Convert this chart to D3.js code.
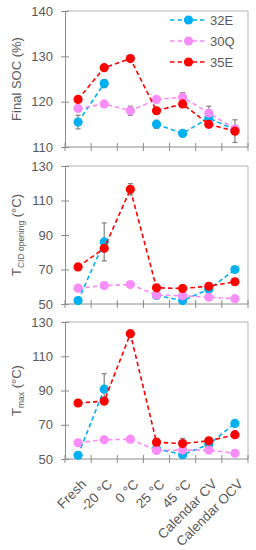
<!DOCTYPE html>
<html>
<head>
<meta charset="utf-8">
<script src="https://cdn.jsdelivr.net/npm/d3@7"></script>
<style>
  body { margin: 0; background: #fff; }
  text { font-family: "Liberation Sans", Arial, sans-serif; fill: #595959; }
</style>
</head>
<body>
<div id="content"></div>
<script>
// ******* DATA *******
const categories = ["Fresh", "-20 °C", "0 °C", "25 °C", "45 °C", "Calendar CV", "Calendar OCV"];
const seriesNames = ["32E", "30Q", "35E"];
const seriesColors = ["#00b0f0", "#f88cf8", "#ff0000"];

// final SOC (%)
const soc32E = [115.5, 124, null, 115, 113, 116.4, 113.8];
const soc30Q = [118.5, 119.5, 118, 120.5, 121, 117.5, 114];
const soc35E = [120.5, 127.5, 129.5, 118, 119.5, 115, 113.5];
const socErr32E = [1.5, 0.9, 0, 0.9, 0, 0, 0];
const socErr30Q = [0, 0, 1, 0, 1, 1.5, 0];
const socErr35E = [0, 0, 0, 0, 0, 0, 2.5];

// T CID opening (°C)
const cid32E = [52, 86, null, 55, 52, 58.5, 70];
const cid30Q = [59.2, 60.7, 61.3, 55.2, 54.8, 53.9, 53.1];
const cid35E = [71.5, 82.3, 116.5, 59.4, 59, 60.3, 62.9];
const cidErr32E = [0, 11, 0, 0, 0, 0, 0];
const cidErr30Q = [0, 0, 0, 0, 0, 0, 0];
const cidErr35E = [0, 0, 3.3, 0, 2, 0, 0];

// T max (°C)
const tmax32E = [52.2, 90.8, null, 56, 52.5, 58.5, 70.8];
const tmax30Q = [59.5, 61.2, 61.6, 55, 55.2, 55.2, 53.3];
const tmax35E = [82.7, 83.8, 123.2, 59.8, 59, 60.6, 64.2];
const tmaxErr32E = [0, 9, 0, 0, 0, 0, 0];
const tmaxErr30Q = [0, 0, 0, 0, 0, 0, 1.5];
const tmaxErr35E = [0, 1.5, 0, 0, 3, 0, 0];

const socTicks = [110, 120, 130, 140];
const tempTicks = [50, 70, 90, 110, 130];

// ******* LAYOUT *******
const W = 256, H = 550;
const left = 65, right = 248;

const svg = d3.select("#content").append("svg")
    .attr("width", W)
    .attr("height", H);

const x = d3.scaleBand().domain(categories).range([left, right]).padding(0);

const panels = [
    { top: 11, bottom: 147, domain: [110, 140], ticks: socTicks,
      values: [soc32E, soc30Q, soc35E], errors: [socErr32E, socErr30Q, socErr35E],
      label: "soc" },
    { top: 166, bottom: 304, domain: [50, 130], ticks: tempTicks,
      values: [cid32E, cid30Q, cid35E], errors: [cidErr32E, cidErr30Q, cidErr35E],
      label: "cid" },
    { top: 322, bottom: 459, domain: [50, 130], ticks: tempTicks,
      values: [tmax32E, tmax30Q, tmax35E], errors: [tmaxErr32E, tmaxErr30Q, tmaxErr35E],
      label: "tmax" }
];

panels.forEach(p => drawPanel(p));
drawLegend();
drawXLabels();

function drawPanel(p) {
    const y = d3.scaleLinear().domain(p.domain).range([p.bottom, p.top]);
    const g = svg.append("g");

    // frame (top and right borders)
    g.append("path")
        .attr("d", `M${left},${p.top}H${right}V${p.bottom}`)
        .attr("fill", "none")
        .attr("stroke", "#b3b3b3")
        .attr("stroke-width", 1);

    // y axis, ticks crossing the line
    const yAxis = g.append("g")
        .attr("transform", `translate(${left},0)`)
        .call(d3.axisLeft(y).tickValues(p.ticks).tickSize(0).tickPadding(12));
    yAxis.select(".domain").attr("stroke", "#8c8c8c");
    yAxis.selectAll(".tick text")
        .style("font-size", "13px")
        .attr("fill", "#595959");
    yAxis.selectAll(".tick").append("line")
        .attr("x1", -4).attr("x2", 4)
        .attr("stroke", "#8c8c8c");

    // x axis with boundary ticks
    g.append("line")
        .attr("x1", left).attr("x2", right)
        .attr("y1", p.bottom).attr("y2", p.bottom)
        .attr("stroke", "#8c8c8c");
    const edges = categories.map(c => x(c)).concat([right]);
    g.selectAll(".xtick").data(edges).join("line")
        .attr("x1", d => d).attr("x2", d => d)
        .attr("y1", p.bottom - 4).attr("y2", p.bottom + 4)
        .attr("stroke", "#8c8c8c");

    const cx = c => x(c) + x.bandwidth() / 2;

    // error bars
    p.values.forEach((vals, si) => {
        vals.forEach((v, i) => {
            const e = p.errors[si][i];
            if (v == null || !e) return;
            const xc = cx(categories[i]);
            const eg = g.append("g").attr("stroke", "#808080").attr("stroke-width", 1.2);
            eg.append("line").attr("x1", xc).attr("x2", xc).attr("y1", y(v - e)).attr("y2", y(v + e));
            eg.append("line").attr("x1", xc - 2.5).attr("x2", xc + 2.5).attr("y1", y(v - e)).attr("y2", y(v - e));
            eg.append("line").attr("x1", xc - 2.5).attr("x2", xc + 2.5).attr("y1", y(v + e)).attr("y2", y(v + e));
        });
    });

    // lines + markers, series in legend order
    p.values.forEach((vals, si) => {
        const pts = vals.map((v, i) => ({ c: categories[i], v }));
        const line = d3.line()
            .defined(d => d.v != null)
            .x(d => cx(d.c))
            .y(d => y(d.v));
        g.append("path")
            .datum(pts)
            .attr("d", line)
            .attr("fill", "none")
            .attr("stroke", seriesColors[si])
            .attr("stroke-width", 1.6)
            .attr("stroke-dasharray", "4.5,3");
        g.selectAll(null).data(pts.filter(d => d.v != null)).join("circle")
            .attr("cx", d => cx(d.c))
            .attr("cy", d => y(d.v))
            .attr("r", 4.6)
            .attr("fill", seriesColors[si]);
    });

    // y title
    const ym = (p.top + p.bottom) / 2;
    const t = svg.append("text")
        .attr("transform", `translate(21,${ym}) rotate(-90)`)
        .attr("text-anchor", "middle")
        .style("font-size", "13px");
    if (p.label === "soc") {
        t.text("Final SOC (%)");
    } else if (p.label === "cid") {
        t.append("tspan").text("T");
        t.append("tspan").attr("dy", 3).style("font-size", "8.5px").text("CID opening");
        t.append("tspan").attr("dy", -3).text(" (°C)");
    } else {
        t.append("tspan").text("T");
        t.append("tspan").attr("dy", 3).style("font-size", "8.5px").text("max");
        t.append("tspan").attr("dy", -3).text(" (°C)");
    }
}

function drawLegend() {
    const lg = svg.append("g");
    seriesNames.forEach((name, i) => {
        const yy = 20 + i * 21;
        lg.append("line")
            .attr("x1", 170).attr("x2", 207)
            .attr("y1", yy).attr("y2", yy)
            .attr("stroke", seriesColors[i])
            .attr("stroke-width", 1.6)
            .attr("stroke-dasharray", "4.5,3");
        lg.append("circle")
            .attr("cx", 188.5).attr("cy", yy).attr("r", 4.6)
            .attr("fill", seriesColors[i]);
        lg.append("text")
            .attr("x", 210).attr("y", yy + 5)
            .style("font-size", "13px")
            .text(name);
    });
}

function drawXLabels() {
    svg.selectAll(".xlab").data(categories).join("text")
        .attr("transform", d => `translate(${x(d) + x.bandwidth() / 2 + 9},${485}) rotate(-45)`)
        .attr("text-anchor", "end")
        .style("font-size", "13.5px")
        .text(d => d);
}
</script>
</body>
</html>
